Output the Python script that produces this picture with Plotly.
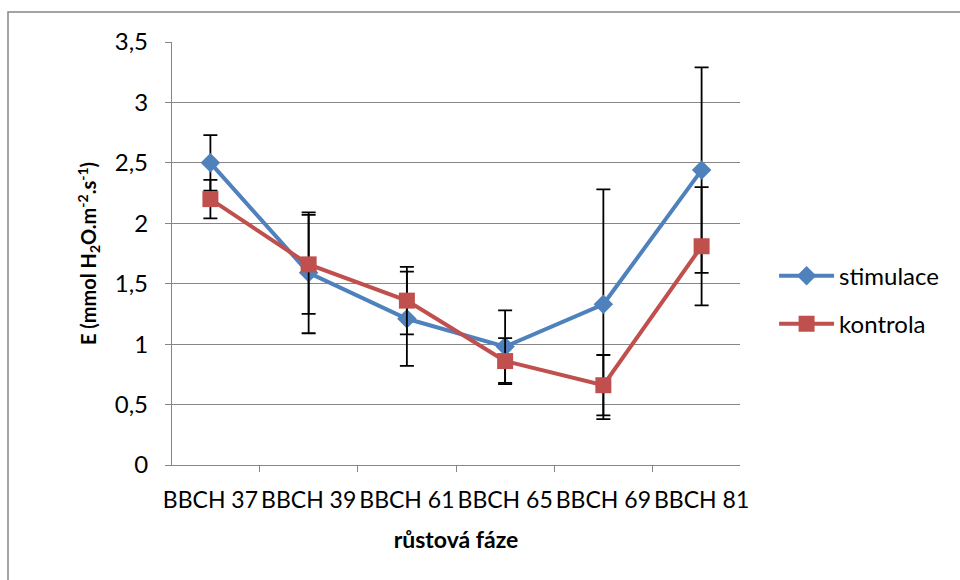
import plotly.graph_objects as go

categories = ["BBCH 37", "BBCH 39", "BBCH 61", "BBCH 65", "BBCH 69", "BBCH 81"]
stimulace = [2.50, 1.59, 1.21, 0.98, 1.33, 2.44]
stimulace_err = [0.23, 0.50, 0.39, 0.30, 0.95, 0.85]
kontrola = [2.20, 1.66, 1.36, 0.86, 0.66, 1.81]
kontrola_err = [0.16, 0.41, 0.28, 0.19, 0.25, 0.49]
y_ticks = [0, 0.5, 1, 1.5, 2, 2.5, 3, 3.5]

FONT = "Lato"
BLUE = "#4F81BD"
RED = "#C0504D"

fig = go.Figure()
fig.add_trace(go.Scatter(
    x=categories, y=stimulace, name="stimulace", mode="lines+markers",
    legendgroup="stimulace",
    line=dict(color=BLUE, width=4),
    marker=dict(symbol="diamond", size=15, color=BLUE),
    error_y=dict(type="data", array=stimulace_err, color="black", thickness=1.8, width=7),
))
fig.add_trace(go.Scatter(
    x=categories, y=kontrola, name="kontrola", mode="lines+markers",
    legendgroup="kontrola",
    line=dict(color=RED, width=4),
    marker=dict(symbol="square", size=16, color=RED),
    error_y=dict(type="data", array=kontrola_err, color="black", thickness=1.8, width=7),
))

fig.update_layout(
    width=960, height=580,
    margin=dict(l=172, r=220, t=42, b=115),
    paper_bgcolor="white", plot_bgcolor="white",
    separators=", ",
    font=dict(family=FONT, size=22, color="black"),
    showlegend=True,
    legend=dict(x=1.06, xanchor="left", y=0.39, yanchor="middle",
                font=dict(family=FONT, size=24), tracegroupgap=14,
                itemwidth=55, bgcolor="rgba(0,0,0,0)"),
    xaxis=dict(
        type="category", tickson="boundaries", ticks="outside", ticklen=6,
        tickcolor="#868686", showline=True, linecolor="#868686", linewidth=1.3,
        showgrid=False, tickfont=dict(family=FONT, size=23), ticklabelstandoff=14,
        tickangle=0, automargin=False,
        title=dict(text="<b>růstová fáze</b>", font=dict(family=FONT, size=23), standoff=20),
    ),
    yaxis=dict(
        range=[0, 3.5], tickvals=y_ticks, ticks="outside", ticklen=6,
        tickcolor="#868686", showline=True, linecolor="#868686", linewidth=1.3,
        showgrid=True, gridcolor="#868686", gridwidth=1.3, zeroline=False,
        tickfont=dict(family=FONT, size=24), tickformat=".1~f", ticklabelstandoff=12,
        automargin=False,
        title=dict(text="<b>E (mmol H<sub>2</sub>O.m<sup>-2</sup>.s<sup>-1</sup>)</b>",
                   font=dict(family=FONT, size=20), standoff=12),
    ),
    shapes=[dict(type="rect", xref="paper", yref="paper",
                 x0=(8 - 172) / 568, x1=(1000 - 172) / 568,
                 y0=(465 - 620) / 423, y1=(465 - 12) / 423,
                 line=dict(color="#868686", width=1.5), fillcolor="rgba(0,0,0,0)",
                 layer="below")],
)

fig.write_html("out.html")
